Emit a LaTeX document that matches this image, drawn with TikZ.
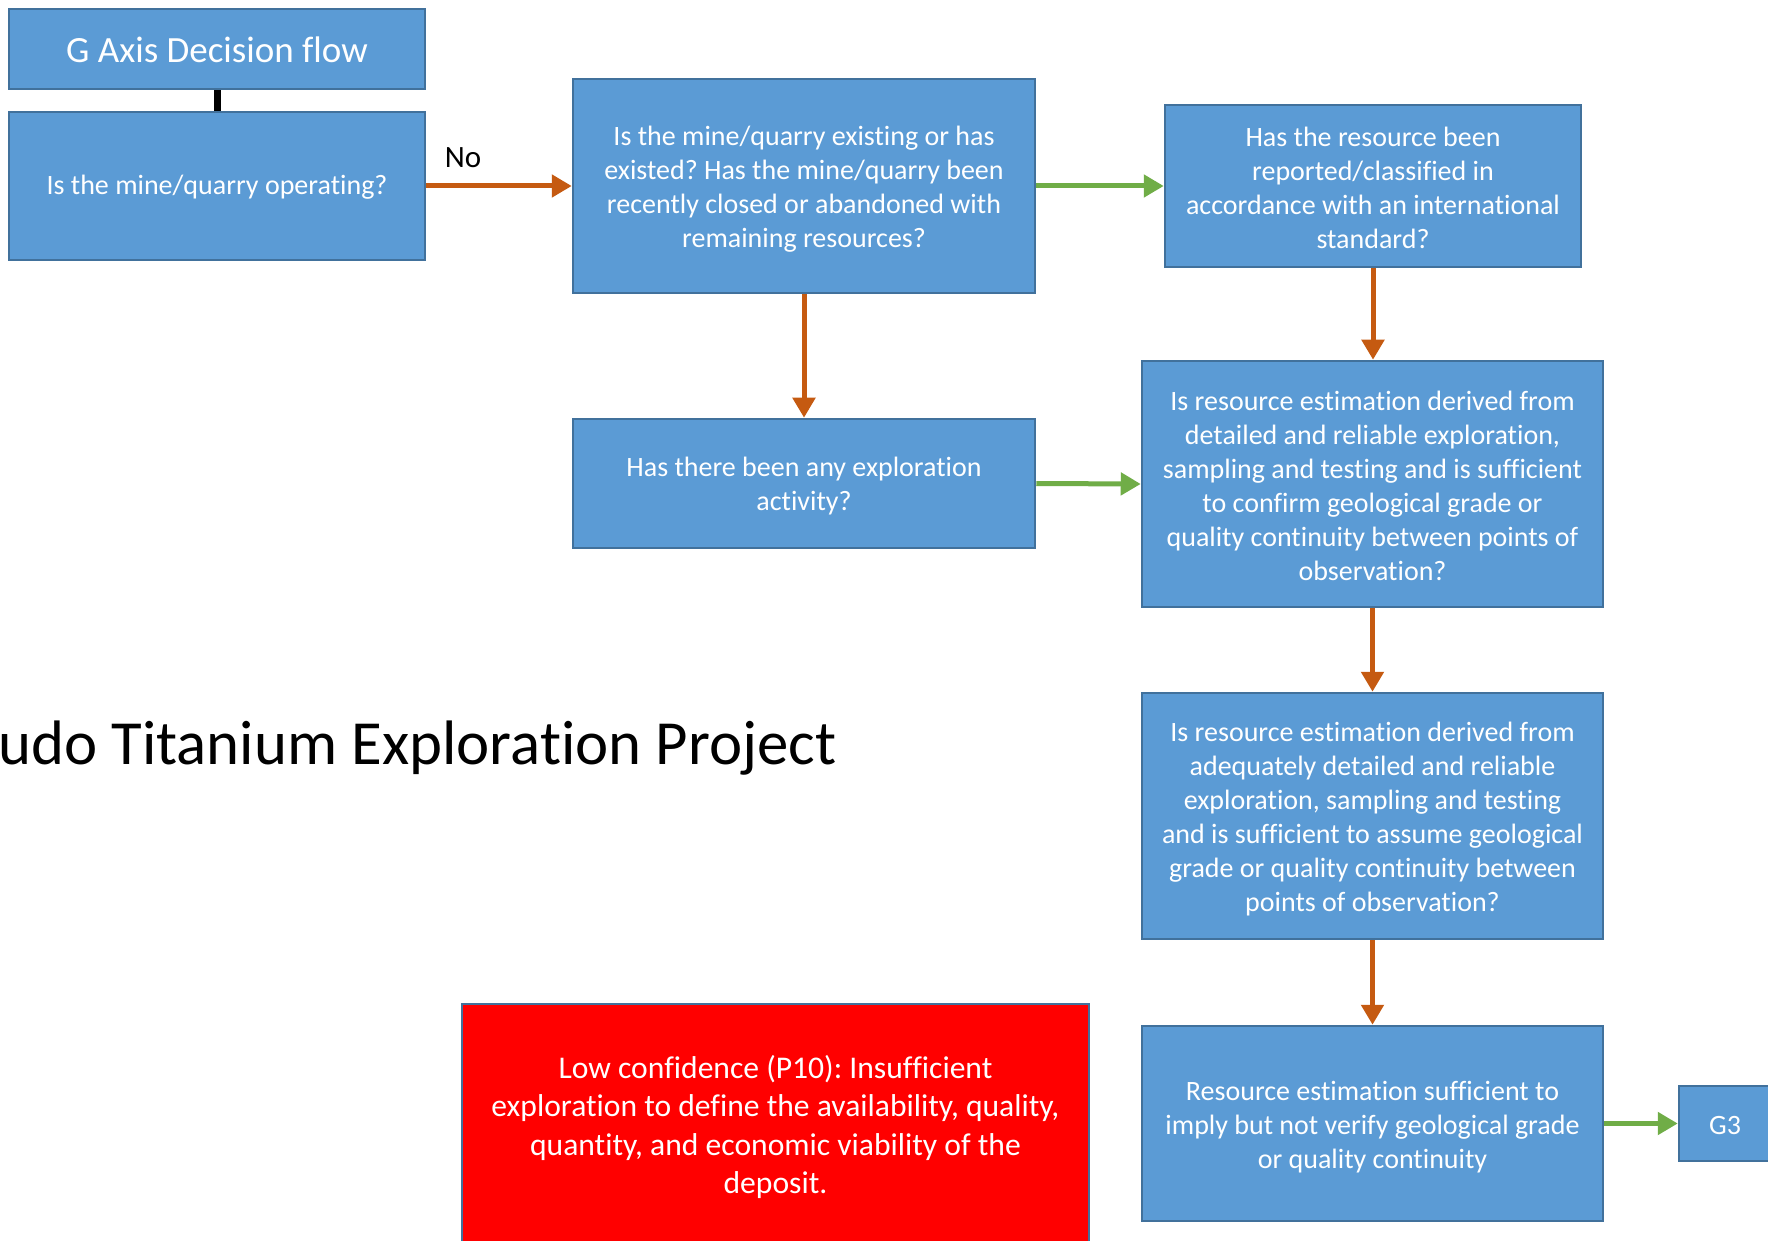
\documentclass[tikz,border=0pt]{standalone}
\usepackage{fontspec}
\setmainfont{Carlito}[Ligatures={NoCommon}]
\frenchspacing
\usetikzlibrary{arrows.meta}
\definecolor{boxfill}{HTML}{5B9BD5}
\definecolor{boxline}{HTML}{41719C}
\definecolor{noline}{HTML}{C55A11}
\definecolor{yesline}{HTML}{70AD47}
\definecolor{alertfill}{HTML}{FF0000}
% invisible strut that sets the height of a box's first text line
\newcommand\toprule[1]{\rule{0pt}{#1}}
\begin{document}
\begin{tikzpicture}[x=0.5pt,y=-0.5pt,
  qbox/.style={draw=boxline, line width=1.25pt, fill=boxfill, text=white,
    align=center, inner sep=0pt, font=\fontsize{14}{17}\selectfont},
  alertbox/.style={qbox, fill=alertfill, font=\fontsize{15.8}{19.15}\selectfont},
  noarrow/.style={draw=noline, line width=2.5pt, -{Triangle[width=11pt,length=10pt]}},
  yesarrow/.style={draw=yesline, line width=2.5pt, -{Triangle[width=11pt,length=10pt]}},
  linkbar/.style={draw=black, line width=3.5pt}]
\useasboundingbox (0,0) rectangle (1768,1241);
\clip (0,0) rectangle (1768,1241);

% heading and first question
\node[qbox, minimum width=208pt, minimum height=40pt, font=\fontsize{18.5}{22}\selectfont]
  (head) at (217,49) {\toprule{13.8pt}G Axis Decision flow};
\node[qbox, minimum width=208pt, minimum height=74pt] (oper) at (217,186)
  {\toprule{11.4pt}Is the mine/quarry operating?};

% question chain
\node[qbox, minimum width=231pt, minimum height=107pt] (exist) at (804,186)
  {\toprule{12.6pt}Is the mine/quarry existing or has\\existed? Has the mine/quarry been\\recently closed or abandoned with\\remaining resources?};
\node[qbox, minimum width=208pt, minimum height=81pt] (report) at (1373,186)
  {\toprule{11.2pt}Has the resource been\\reported/classified in\\accordance with an international\\standard?};
\node[qbox, minimum width=231pt, minimum height=64.5pt] (explore) at (804,483.5)
  {\toprule{12.6pt}Has there been any exploration\\activity?};
\node[qbox, minimum width=230.5pt, minimum height=123pt] (detail) at (1372.5,484)
  {\toprule{11.2pt}Is resource estimation derived from\\detailed and reliable exploration,\\sampling and testing and is sufficient\\to confirm geological grade or\\quality continuity between points of\\observation?};
\node[qbox, minimum width=230.5pt, minimum height=123pt] (adequate) at (1372.5,816)
  {\toprule{12.6pt}Is resource estimation derived from\\adequately detailed and reliable\\exploration, sampling and testing\\and is sufficient to assume geological\\grade or quality continuity between\\points of observation?};
\node[qbox, minimum width=230.5pt, minimum height=97.5pt] (imply) at (1372.5,1123.5)
  {\toprule{13.4pt}Resource estimation sufficient to\\imply but not verify geological grade\\or quality continuity};
\node[qbox, minimum width=46pt, minimum height=37.5pt] (gthree) at (1725,1123.5)
  {\toprule{11.4pt}G3};

% outcome box
\node[alertbox, minimum width=313.5pt, minimum height=121pt] (low) at (775.5,1125)
  {\toprule{13.6pt}Low confidence (P10): Insufficient\\exploration to define the availability, quality,\\quantity, and economic viability of the\\deposit.};

% project title
\node[anchor=base west, inner sep=0pt, font=\fontsize{31.4}{37}\selectfont]
  (project) at (-2,764) {udo Titanium Exploration Project};

% connectors
\draw[linkbar] (head.south) -- (oper.north);
\draw[noarrow] (oper.east) -- (exist.west);
\node[font=\fontsize{15.5}{18}\selectfont, inner sep=0pt] (nolabel) at (463,158) {No};
\draw[yesarrow] (exist.east) -- (report.west);
\draw[noarrow] (exist.south) -- (explore.north);
\draw[yesarrow] (explore.east) -- (detail.west);
\draw[noarrow] (report.south) -- (report.south |- detail.north);
\draw[noarrow] (detail.south) -- (adequate.north);
\draw[noarrow] (adequate.south) -- (imply.north);
\draw[yesarrow] (imply.east) -- (gthree.west);
\end{tikzpicture}
\end{document}
